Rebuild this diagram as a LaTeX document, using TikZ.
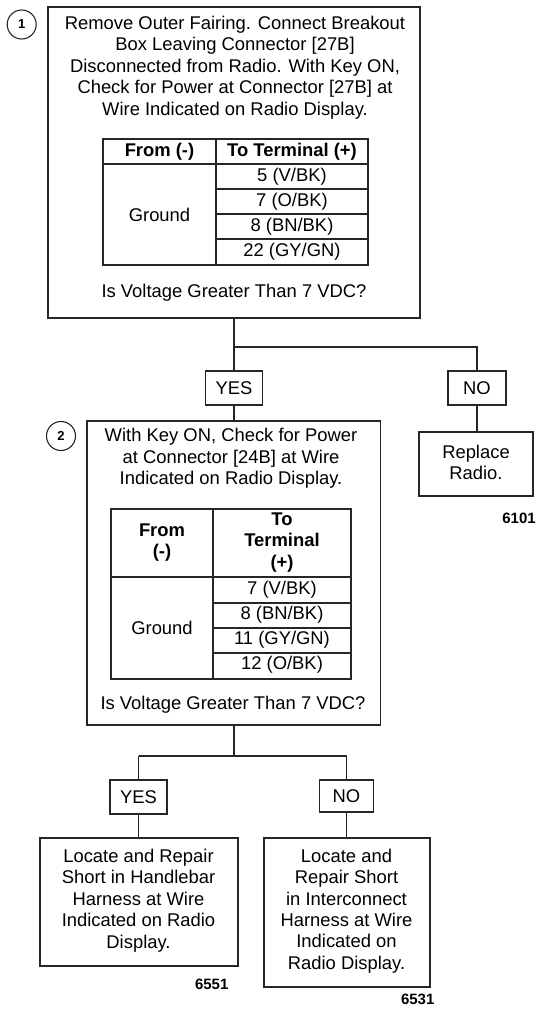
\documentclass[tikz,border=0pt]{standalone}
\usepackage{fontspec}
\setmainfont{Liberation Sans}
\begin{document}
\begin{tikzpicture}[x=1pt,y=-1pt,
  every node/.style={inner sep=0pt,outer sep=0pt,font=\fontsize{18.4}{21.4}\selectfont,align=center},
  box/.style={draw=black!85,line width=1.1pt,rectangle},
  txt/.style={},
  hd/.style={font=\fontsize{18.4}{21.4}\selectfont\bfseries},
  code/.style={font=\fontsize{15}{18}\selectfont\bfseries},
  num/.style={draw=black!85,line width=1.1pt,circle,minimum size=29pt,font=\fontsize{13}{15}\selectfont\bfseries},
  grid/.style={draw=black!85,line width=1.1pt},
  conn/.style={draw=black!85,line width=1.1pt}]
\useasboundingbox (0,0) rectangle (537,1009);

% ---- Step 1 ----
\node[num] (n1) at (21.7,24.5) {1};
\node[box,minimum width=372pt,minimum height=311pt] (b1) at (234,162.5) {};
\node[txt] (t1) at (235,67.5) {Remove Outer Fairing. Connect Breakout\\Box Leaving Connector [27B]\\Disconnected from Radio. With Key ON,\\Check for Power at Connector [27B] at\\Wire Indicated on Radio Display.};
% table 1
\draw[grid] (103,139) rectangle (368,265);
\draw[grid] (216,139) -- (216,265);
\draw[grid] (103,164) -- (368,164);
\draw[grid] (216,189) -- (368,189);
\draw[grid] (216,214) -- (368,214);
\draw[grid] (216,239) -- (368,239);
\node[hd] (h1a) at (159.5,151.5) {From (-)};
\node[hd] (h1b) at (292,151.5) {To Terminal (+)};
\node (g1) at (159.5,214.5) {Ground};
\node (r1a) at (292,176.5) {5 (V/BK)};
\node (r1b) at (292,201.5) {7 (O/BK)};
\node (r1c) at (292,226.5) {8 (BN/BK)};
\node (r1d) at (292,251.5) {22 (GY/GN)};
\node (q1) at (234,292.5) {Is Voltage Greater Than 7 VDC?};

% branch 1
\coordinate (j1) at (234,347);
\coordinate (j1r) at (477,347);
\node[box,minimum width=57pt,minimum height=34pt] (y1) at (234,388) {YES};
\node[box,minimum width=58pt,minimum height=34pt] (no1) at (477,388) {NO};
\node[box,minimum width=114pt,minimum height=64pt] (rep) at (476,464) {};
\node (rept) at (476,462.5) {Replace\\Radio.};
\node[code] (c6101) at (519,518) {6101};
\draw[conn] (b1.south -| j1) -- (j1) -- (y1.north);
\draw[conn] (j1) -- (j1r) -- (no1.north);
\draw[conn] (no1.south) -- (no1.south |- rep.north);

% ---- Step 2 ----
\node[num] (n2) at (61,436) {2};
\node[box,minimum width=293.5pt,minimum height=304pt] (b2) at (233.75,573) {};
\node (t2) at (231,458.5) {With Key ON, Check for Power\\at Connector [24B] at Wire\\Indicated on Radio Display.};
\draw[conn] (y1.south) -- (y1.south |- b2.north);
% table 2
\draw[grid] (111,509) rectangle (351,679);
\draw[grid] (213,509) -- (213,679);
\draw[grid] (111,577) -- (351,577);
\draw[grid] (213,603) -- (351,603);
\draw[grid] (213,628) -- (351,628);
\draw[grid] (213,653) -- (351,653);
\node[hd] (h2a) at (162,542.5) {From\\(-)};
\node[hd] (h2b) at (282,542.5) {To\\Terminal\\(+)};
\node (g2) at (162,628) {Ground};
\node (r2a) at (282,589.5) {7 (V/BK)};
\node (r2b) at (282,614.5) {8 (BN/BK)};
\node (r2c) at (282,639.5) {11 (GY/GN)};
\node (r2d) at (282,664.5) {12 (O/BK)};
\node (q2) at (233,704.5) {Is Voltage Greater Than 7 VDC?};

% branch 2
\coordinate (j2) at (234,756);
\coordinate (j2l) at (138.5,756);
\coordinate (j2r) at (346.5,756);
\node[box,minimum width=57pt,minimum height=34pt] (y2) at (138.5,797) {YES};
\node[box,minimum width=54pt,minimum height=32pt] (no2) at (346.5,796) {NO};
\node[box,minimum width=198pt,minimum height=128pt] (bl) at (139,902) {};
\node (blt) at (138.5,900.5) {Locate and Repair\\Short in Handlebar\\Harness at Wire\\Indicated on Radio\\Display.};
\node[box,minimum width=166pt,minimum height=149pt] (br) at (347,912.5) {};
\node (brt) at (346.5,911) {Locate and\\Repair Short\\in Interconnect\\Harness at Wire\\Indicated on\\Radio Display.};
\node[code] (c6551) at (211.7,984) {6551};
\node[code] (c6531) at (417.7,999) {6531};
\draw[conn] (b2.south -| j2) -- (j2);
\draw[conn] (j2l) -- (j2r);
\draw[conn] (j2l) -- (y2.north);
\draw[conn] (j2r) -- (no2.north);
\draw[conn] (y2.south) -- (y2.south |- bl.north);
\draw[conn] (no2.south) -- (no2.south |- br.north);
\end{tikzpicture}
\end{document}
